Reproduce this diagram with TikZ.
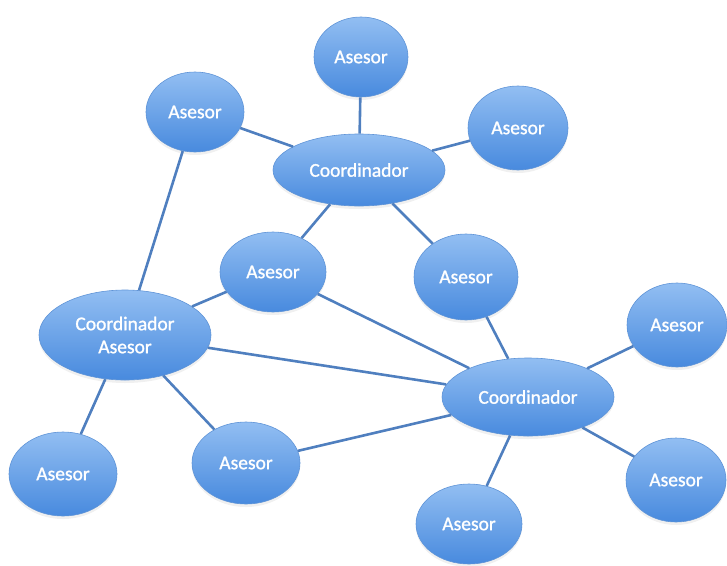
\documentclass[tikz,border=0pt]{standalone}
\usepackage{fontspec}
\setmainfont{Carlito}
\newfontfamily\bubfont[FakeBold=1.2]{Carlito}
\usetikzlibrary{shapes.geometric,shadows}

\definecolor{bubtop}{RGB}{146,190,242}
\definecolor{bubbot}{RGB}{72,138,222}
\definecolor{bubline}{RGB}{95,148,215}
\definecolor{linkcol}{RGB}{79,127,191}

\tikzset{
  bub/.style={ellipse, draw=bubline, line width=0.6pt, top color=bubtop, bottom color=bubbot,
    text=white, inner sep=0pt, align=center,
    font=\bubfont\fontsize{19.5}{23}\selectfont,
    drop shadow={opacity=0.12, shadow xshift=0pt, shadow yshift=-3pt}},
  link/.style={draw=linkcol, line width=2.6pt}
}

\begin{document}
\begin{tikzpicture}[x=1pt,y=-1pt]
\useasboundingbox (0,0) rectangle (727,565);

\node[bub, minimum width=94, minimum height=80] (asetop) at (361,57) {Asesor};
\node[bub, minimum width=98, minimum height=80] (aseul) at (195,112) {Asesor};
\node[bub, minimum width=100, minimum height=84] (aseur) at (518,128) {Asesor};
\node[bub, minimum width=172, minimum height=72] (coordtop) at (359,170) {Coordinador};
\node[bub, minimum width=106, minimum height=80] (asemid) at (273,272) {Asesor};
\node[bub, minimum width=104, minimum height=86] (asemr) at (466,277) {Asesor};
\node[bub, minimum width=172, minimum height=90] (coordase) at (125,335) {Coordinador\\Asesor};
\node[bub, minimum width=172, minimum height=78] (coordr) at (528,397) {Coordinador};
\node[bub, minimum width=100, minimum height=84] (asefr) at (677,325) {Asesor};
\node[bub, minimum width=108, minimum height=84] (asebl) at (63,474) {Asesor};
\node[bub, minimum width=108, minimum height=82] (asebm) at (246,463) {Asesor};
\node[bub, minimum width=106, minimum height=80] (asebot) at (469,524) {Asesor};
\node[bub, minimum width=100, minimum height=84] (asebr) at (676,480) {Asesor};

% links around the top coordinator
\draw[link] (asetop) -- (coordtop);
\draw[link] (aseul) -- (coordtop);
\draw[link] (aseur) -- (coordtop);
\draw[link] (coordtop) -- (asemid);
\draw[link] (coordtop) -- (asemr);
% links around the coordinator/asesor
\draw[link] (aseul) -- (coordase);
\draw[link] (coordase) -- (asemid);
\draw[link] (coordase) -- (coordr);
\draw[link] (coordase) -- (asebl);
\draw[link] (coordase) -- (asebm);
% links around the right coordinator
\draw[link] (asemid) -- (coordr);
\draw[link] (asemr) -- (coordr);
\draw[link] (asebm) -- (coordr);
\draw[link] (coordr) -- (asebot);
\draw[link] (coordr) -- (asefr);
\draw[link] (coordr) -- (asebr);
\end{tikzpicture}
\end{document}
